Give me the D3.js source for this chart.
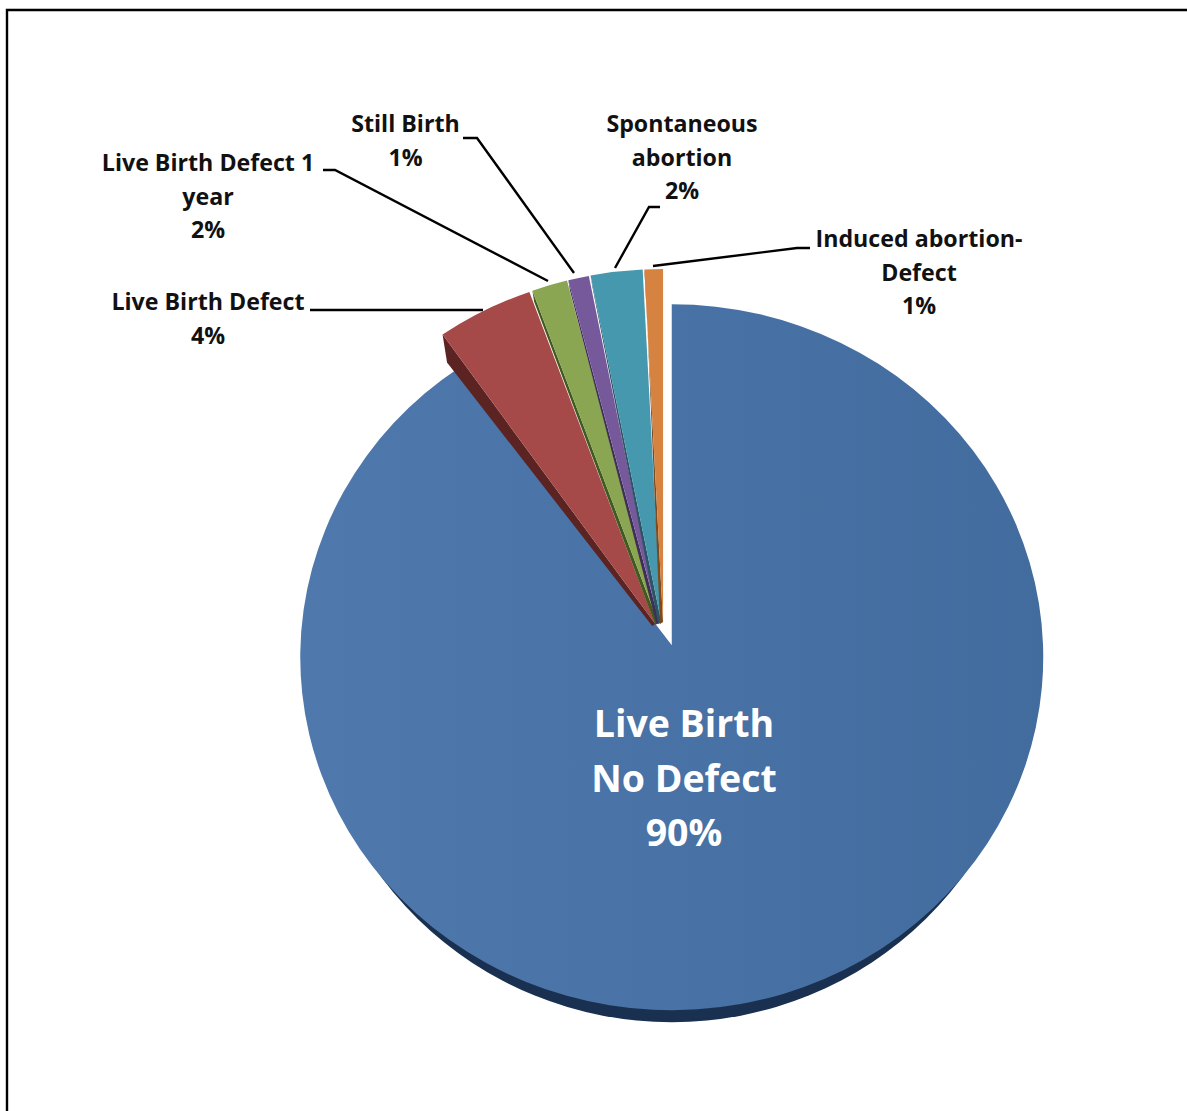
<!DOCTYPE html>
<html><head><meta charset="utf-8">
<script src="https://cdn.jsdelivr.net/npm/d3@7"></script>
<style>html,body{margin:0;background:#fff;overflow:hidden}svg{display:block}text{font-family:"Open Sans",sans-serif}</style>
</head><body><svg id="c" width="1187" height="1111"></svg>
<script>
const categories=["Live Birth No Defect","Live Birth Defect","Live Birth Defect 1 year","Still Birth","Spontaneous abortion","Induced abortion-Defect"];
const shares=[90.3,4.2,1.55,0.9,2.25,0.8];
const percentLabels=["90%","4%","2%","1%","2%","1%"];
const colors=["#4a74a8","#a54a48","#8ba652","#76599b","#4698ae","#d68240"];
const wallColors=["#1a3050","#5b2423","#42591f","#3f2f56","#2b5566","#7a4a20"];

const svg=d3.select("#c");
const CX=663.5,CY=640,RX=371.5,RY=353,EY=18;
const explodeX=[27.5,18,18,18,18,18];
const defs=svg.append("defs");
const g=defs.append("linearGradient").attr("id","mainFill");
g.append("stop").attr("offset","0").attr("stop-color","#4f79ad");
g.append("stop").attr("offset","1").attr("stop-color","#426b9e");

// frame: top and left edges only, the rest runs off the picture
svg.append("path").attr("d",d3.line()([[7,1111],[7,10],[1187,10]]))
  .attr("fill","none").attr("stroke","#000").attr("stroke-width",2.4);
svg.append("path").attr("d",d3.line()([[6,8.5],[1187,8.5]]))
  .attr("fill","none").attr("stroke","#bbb").attr("stroke-width",1);

const arcs=d3.pie().sort(null).startAngle(0).endAngle(2*Math.PI)(shares);
const wallDepth=[12,28,11,10,11,5];
const apexLift=[12,0,0,0,0,0];

function geom(d,i){
  const mid=(d.startAngle+d.endAngle)/2;
  const cx=CX+explodeX[i]*Math.sin(mid),cy=CY-EY*Math.cos(mid);
  const pt=a=>[cx+RX*Math.sin(a),cy-RY*Math.cos(a)];
  return {cx,cy,ax:cx,ay:cy-apexLift[i],s:pt(d.startAngle),e:pt(d.endAngle),
    large:d.endAngle-d.startAngle>Math.PI?1:0};
}
function wedge(d,i){
  const p=geom(d,i);
  return `M${p.ax},${p.ay}L${p.s[0]},${p.s[1]}A${RX},${RY} 0 ${p.large} 1 ${p.e[0]},${p.e[1]}Z`;
}
// main slice: lower half of a slightly narrower ellipse shows as the rim along the bottom
const m=geom(arcs[0],0),rimRx=RX-12,rimY=m.cy+wallDepth[0];
svg.append("path")
  .attr("d",`M${m.cx-rimRx},${rimY}A${rimRx},${RY} 0 0 0 ${m.cx+rimRx},${rimY}Z`)
  .attr("fill",wallColors[0]);
svg.append("path").attr("d",wedge(arcs[0],0)).attr("fill","url(#mainFill)");

// small slices, left to right: dark side wall, then top face
arcs.slice(1).forEach((d,k)=>{
  const i=k+1,p=geom(d,i),dp=wallDepth[i];
  const wall=d3.line()([[p.ax,p.ay],[p.s[0],p.s[1]],[p.s[0]+dp*0.16,p.s[1]+dp],[p.ax-3,p.ay+2]])+"Z";
  svg.append("path").attr("d",wall).attr("fill",wallColors[i]);
  svg.append("path").attr("d",wedge(d,i)).attr("fill",colors[i]);
});

// leader lines
const leaders=[
 [[310,310],[415,310],[483,310]],
 [[323,170],[335,170],[548,281]],
 [[463,138],[477,138],[574,273]],
 [[660,207],[649,207],[615,268]],
 [[810,248],[797,248],[653,266]]
];
const line=d3.line();
leaders.forEach(l=>svg.append("path").attr("d",line(l)).attr("fill","none").attr("stroke","#000").attr("stroke-width",2.4));

// labels
const labels=[
 {i:0,x:684,y:737,size:37.5,fill:"#fff",lh:54.5,lines:["Live Birth","No Defect"]},
 {i:1,x:208,y:310,lines:["Live Birth Defect"]},
 {i:2,x:208,y:171,lines:["Live Birth Defect 1","year"]},
 {i:3,x:405.5,y:132,lines:["Still Birth"]},
 {i:4,x:682,y:132,lines:["Spontaneous","abortion"]},
 {i:5,x:919,y:247,lines:["Induced abortion-","Defect"]}
];
labels.forEach(o=>{
  const t=svg.append("text").attr("text-anchor","middle").attr("font-weight",700)
    .attr("font-size",o.size||23.2).attr("fill",o.fill||"#111");
  const lh=o.lh||33.7;
  o.lines.concat(percentLabels[o.i]).forEach((s,j)=>
    t.append("tspan").attr("x",o.x).attr("y",o.y+j*lh).text(s));
});
</script></body></html>
